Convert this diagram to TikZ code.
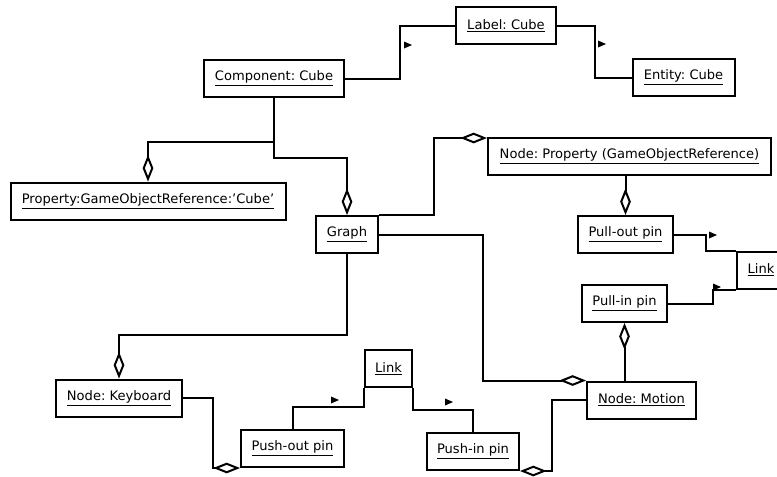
\documentclass[tikz,border=0pt]{standalone}
\usepackage{fontspec}
\setmainfont{DejaVu Sans}
\usetikzlibrary{arrows.meta}
\tikzset{object/.style={draw,line width=1.5pt,minimum height=27.75pt,inner sep=2pt,font=\fontsize{9.8pt}{12pt}\selectfont\frenchspacing}}
\tikzset{aggregation/.style={line width=1.5pt,-{Diamond[open,length=20pt,width=8pt]}}}
\tikzset{association/.style={line width=1.5pt}}
\tikzset{direction/.style={fill=black}}

\begin{document}
\begin{tikzpicture}[x=0.75pt,y=-0.75pt]
\useasboundingbox (0,0) rectangle (777,476);

%Objects
\node[object,minimum width=105pt] (component) at (274,78.5) {\underline{Component: Cube}};
\node[object,minimum width=75pt] (label) at (506,25.5) {\underline{Label: Cube}};
\node[object,minimum width=76.5pt] (entity) at (683.5,77.5) {\underline{Entity: Cube}};
\node[object,minimum width=206.25pt] (property) at (148,201) {\underline{Property:GameObjectReference:\symbol{39}Cube\symbol{39}}};
\node[object,minimum width=46.5pt] (graph) at (347,234.5) {\underline{Graph}};
\node[object,minimum width=212.25pt] (propnode) at (629.5,156.5) {\underline{Node: Property (GameObjectReference)}};
\node[object,minimum width=71.25pt] (pullout) at (625.5,234.5) {\underline{Pull-out pin}};
\node[object,minimum width=63.75pt] (pullin) at (624.5,303.5) {\underline{Pull-in pin}};
\node[object,minimum width=36pt] (pulllink) at (761,270) {\underline{Link}};
\node[object,minimum width=81.75pt] (motion) at (641.5,400) {\underline{Node: Motion}};
\node[object,minimum width=94.5pt] (keyboard) at (119,398) {\underline{Node: Keyboard}};
\node[object,minimum width=77.25pt] (pushout) at (292.5,448.5) {\underline{Push-out pin}};
\node[object,minimum width=35.25pt] (pushlink) at (388.5,368.5) {\underline{Link}};
\node[object,minimum width=69pt] (pushin) at (473,451.5) {\underline{Push-in pin}};

%Associations
\draw[association] (component.east) -- ++(55,0) |- (label.west);
\draw[association] (label.east) -- ++(38,0) |- (entity.west);
\draw[association] (pullout.east) -- ++(32,0) |- (pulllink.north west);
\draw[association] (pullin.east) -- ++(45,0) |- (pulllink.south west);
\draw[association] (pushout.north) -- ++(0,-22) -| (pushlink.south west);
\draw[association] (pushlink.south east) -- ++(0,22) -| (pushin.north);

%Aggregations
\draw[aggregation] (component.south) -- ++(0,44) -| (property.north);
\draw[aggregation] (component.south) -- ++(0,60) -| (graph.north);
\draw[aggregation] (graph.north east) -- ++(55,0) |- ([yshift=-0.75pt]propnode.north west);
\draw[aggregation] (graph.east) -- ++(104,0) |- (motion.north west);
\draw[aggregation] (graph.south) -- ++(0,81) -| (keyboard.north);
\draw[aggregation] (pullout.north |- propnode.south) -- (pullout.north);
\draw[aggregation] (motion.north -| pullin.south) -- (pullin.south);
\draw[aggregation] (keyboard.east) -- ++(30,0) |- (pushout.south west);
\draw[aggregation] (motion.west) -- ++(-34,0) |- (pushin.south east);

%Directions
\fill[direction] (412,45) -- ++(-8,-3.5) -- ++(0,7) -- cycle;
\fill[direction] (606,44) -- ++(-8,-3.5) -- ++(0,7) -- cycle;
\fill[direction] (717,235) -- ++(-8,-3.5) -- ++(0,7) -- cycle;
\fill[direction] (721,287) -- ++(-8,-3.5) -- ++(0,7) -- cycle;
\fill[direction] (339,400) -- ++(-8,-3.5) -- ++(0,7) -- cycle;
\fill[direction] (453,402) -- ++(-8,-3.5) -- ++(0,7) -- cycle;

\end{tikzpicture}
\end{document}
